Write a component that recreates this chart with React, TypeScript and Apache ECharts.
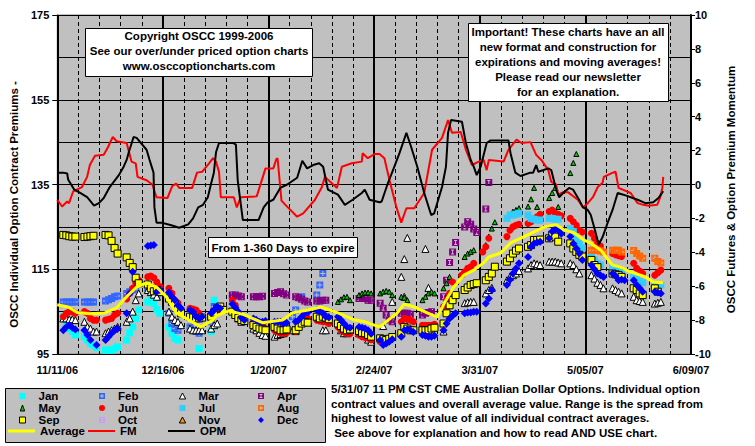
import React, { useEffect, useRef } from 'react';
import * as echarts from 'echarts';

const FONT = '"Liberation Sans", Arial, sans-serif';

// x values are calendar days counted from 11/11/06
const X_LABELS = ['11/11/06', '12/16/06', '1/20/07', '2/24/07', '3/31/07', '5/05/07', '6/09/07'];

const JAN = [[2,103.8],[3,102.2],[4,101],[5,100.3],[6,99.5],[9,99.1],[10,98.3],[11,97.5],[12,97.1],[13,96.5],[16,95.9],[17,95.9],[18,95.9],[19,96.3],[20,96.7],[23,98.3],[24,100],[25,101.4],[26,103.4],[27,105.4],[30,107.3],[31,107.7],[32,107],[33,105.5],[34,104.6],[37,101.4],[38,99.9],[39,98.7],[40,98.3],[47,96.3],[51,100.3],[52,107.7],[107,98.3]];
const FEB = [[2,107.3],[3,107.3],[4,107.3],[5,107.3],[6,107.3],[9,107.3],[10,107.3],[11,107.3],[12,107.3],[16,107.5],[17,107.8],[18,108.1],[19,108.5],[20,108.7],[23,109.3],[24,109.7],[25,110.1],[26,110.3],[30,110.5],[31,110.5],[32,109.5],[33,108.5],[37,104.6],[38,102.2],[39,101],[40,100.6],[44,101.4],[45,100.6],[46,100.3],[47,99.9],[51,102.6],[52,106.2],[60,103.8],[61,103.4],[65,103],[66,102],[69,100.6],[78,103.8],[79,105.4],[81,108.5],[86,108.9],[87,111.3],[88,114]];
const MAR = [[2,103.4],[3,103.4],[4,103.2],[5,103.2],[6,103],[9,102.6],[10,101.4],[11,101],[12,100.3],[13,100.3],[16,99.9],[17,100.3],[18,100.6],[19,101],[20,101.4],[23,102.6],[24,103.4],[25,105],[26,107.7],[27,109.3],[30,110.1],[31,109.6],[32,109],[33,108.5],[37,105],[38,103.8],[39,103],[40,102.6],[41,101.8],[44,101],[45,100.6],[46,100.6],[47,100.6],[48,100.6],[51,101],[52,101.8],[53,102.2],[60,103.4],[61,102.6],[65,101],[66,100.6],[67,100],[68,99.5],[69,99.3],[72,99.1],[73,99.5],[74,99.7],[75,99.9],[78,100.6],[79,100.4],[88,100.6],[89,100.6],[94,100.6],[95,99.9],[96,99.9],[100,99.9],[101,99.7],[103,98.4],[104,97.9],[108,101.6],[111,107.3],[114,113.2],[115,117.4],[116,122.4],[115,108.5],[122,119.8],[123,110.6],[128,100.3],[135,107],[136,107.2],[137,107.3],[138,107.3],[142,109.3],[143,110.1],[144,110.6],[149,112.4],[150,113.2],[151,113.6],[152,114],[153,114.6],[156,115.2],[157,116],[158,116.4],[159,116.2],[160,116],[163,116.8],[164,116.8],[165,116.8],[166,116.6],[167,116.4],[170,116.4],[171,116],[172,115],[173,114],[177,113.6],[178,112.8],[179,111.8],[180,111.3],[181,110.5],[184,110.5],[185,110.1],[186,109.7],[187,109.3],[191,108.5],[192,107.7],[193,107.5],[194,107.3],[198,106.9],[199,107.1],[200,107.3]];
const APR = [[58,108.9],[59,108.9],[60,108.7],[61,108.5],[65,108.5],[66,108.5],[67,108.5],[68,108.6],[72,109.3],[73,109.5],[74,109.7],[75,109.2],[76,108.9],[79,108.5],[80,108.3],[81,107.9],[82,107.5],[83,107.3],[86,107.5],[87,107.5],[88,107.7],[89,107.7],[100,108.1],[101,108.2],[102,108.1],[103,107.7],[104,107.7],[107,107],[108,105.8],[109,104.2],[110,103],[111,102.6],[114,104.6],[115,104.6],[116,104.6],[117,104.4],[121,104.2],[122,104.6],[123,104.8],[124,105],[128,108.5],[129,112.4],[130,116.6],[131,119.1],[132,121.3],[135,125],[136,126.2],[137,125.6],[138,124.5],[139,123.7],[142,129.2],[143,135.5]];
const MAY = [[93,107.3],[94,107.9],[95,108.4],[96,108.5],[97,107.7],[100,108.9],[101,109.3],[102,109.5],[103,109.5],[104,109.3],[107,109.3],[108,109.7],[109,109.9],[110,109.7],[111,108.9],[114,108.5],[115,108.3],[116,107.7],[121,107.7],[122,108.5],[123,109.3],[124,109.7],[125,109.3],[128,110.5],[129,111.7],[130,113.2],[135,117.9],[136,118.7],[137,119.1],[138,119.5],[142,120.7],[143,122.7],[144,124.6],[145,126.1],[151,128.6],[152,129],[153,129.4],[156,129.8],[157,131.5],[158,134.2],[159,129.7],[163,131.8],[164,133],[165,134.2],[166,129.7],[170,137.7],[171,140.1],[172,142.2]];
const JUN = [[2,103.8],[3,104.6],[4,105],[5,105],[6,104.6],[9,105],[10,104.6],[11,103.4],[12,103],[13,103],[16,103],[17,103.2],[18,103.4],[19,104.2],[20,104.6],[23,108],[24,109.3],[25,110.5],[26,111.7],[27,112.4],[30,113.2],[31,113.4],[32,113],[33,112],[34,110.9],[37,110.5],[38,109.3],[39,107.7],[40,107],[44,105.8],[45,105.6],[46,105.4],[47,104.6],[51,103.8],[52,104.6],[53,105.4],[58,107.7],[59,106.5],[60,104.6],[61,103.8],[65,102.6],[66,102.2],[67,101.8],[68,101.4],[69,101],[72,100.6],[73,100.2],[74,99.9],[75,99.9],[76,100],[79,100.3],[80,101.4],[81,102.6],[82,103.8],[83,103.4],[86,103],[87,102.8],[88,102.6],[89,102.6],[90,102.2],[93,101.4],[94,100.6],[95,100.2],[96,99.9],[97,99.8],[100,99.5],[101,99.1],[102,98.9],[103,98.7],[104,98.3],[107,97.9],[108,98.1],[109,98.3],[110,98.5],[111,99],[114,102.6],[115,103.4],[116,103.2],[117,103],[118,102.6],[121,101.8],[122,101.8],[123,101.8],[124,101.8],[125,102],[128,106.2],[129,107.7],[130,109.3],[131,112],[134,113.6],[135,114.4],[136,115.2],[137,115.6],[138,116.4],[141,119.1],[142,120.3],[143,122.3],[149,122.7],[150,124.2],[151,125],[152,125.4],[153,125.6],[156,125.8],[157,126.2],[158,126.8],[159,127.4],[160,128],[163,128.6],[164,129],[165,128.2],[166,128],[167,127.6],[170,127],[171,126.2],[172,125.4],[173,124.2],[174,123.8],[177,123.5],[178,122.3],[179,121.1],[180,120.5],[184,118.7],[185,118.4],[186,118.2],[187,118],[191,116.4],[192,115.2],[193,114.6],[194,114],[198,113.6],[199,114.2],[200,114.8]];
const JUL = [[149,127],[150,127.8],[151,127.8],[152,128],[153,128.2],[156,127.8],[157,127],[158,126.8],[159,126.6],[160,126.6],[163,127],[164,127],[165,126.8],[166,126.8],[170,124.6],[171,123.9],[172,122.7],[173,121.1],[174,120],[177,118],[178,117.2],[179,116.4],[180,116],[184,115.2],[185,114.8],[186,114.4],[187,114],[191,113.6],[192,112.8],[193,112.1],[194,111.8],[198,111.3],[199,111.3],[200,111.3]];
const AUG = [[177,119.5],[178,119.5],[179,119.5],[180,119.3],[181,119.1],[184,119.5],[185,119.5],[186,119.5],[187,119.1],[191,119.4],[192,118.7],[193,118.1],[194,117.6],[198,117.6],[199,116.8],[200,116.5]];
const SEP = [[2,123.1],[3,123],[4,122.8],[5,122.7],[6,122.7],[9,122.6],[10,122.7],[11,122.8],[12,122.9],[16,123.1],[17,123],[18,121.7],[19,120],[20,118.7],[23,117.8],[24,116.5],[25,115.5],[26,113],[27,111.7],[30,111.4],[31,110.5],[32,109.8],[33,110.1],[34,109.6],[37,108.1],[38,107.3],[39,106.8],[40,105.6],[41,104.6],[44,103.8],[45,103.6],[46,103.4],[47,103.4],[48,103.6],[51,103.8],[52,104.8],[53,105.8],[54,106.2],[55,105.4],[58,105],[59,104.2],[60,103.5],[61,103],[62,102.8],[65,101.8],[66,101.4],[67,101],[68,100.8],[69,100.6],[72,101.4],[73,101],[74,100.6],[75,100.6],[76,100.8],[79,100.6],[80,101.4],[81,102.2],[82,102.6],[83,102.4],[86,103.8],[87,103.4],[88,103.8],[89,103.6],[90,103.2],[93,102.2],[94,101.6],[95,101],[96,100.6],[97,100.8],[100,100.4],[101,100],[102,99.9],[103,99.5],[104,99.1],[107,98.7],[108,98.5],[109,98.3],[110,98.6],[111,99],[114,99.9],[115,101.4],[116,101],[117,100.6],[118,100.6],[121,100.6],[122,100.6],[123,100.6],[124,101],[125,101.2],[128,102.2],[129,104.6],[130,106.5],[131,107.7],[132,108.9],[135,110.1],[136,110.7],[137,111.3],[138,111.5],[139,111.7],[142,112.4],[143,113.2],[144,114],[145,115.6],[149,116.8],[150,117.6],[151,118.7],[152,119.4],[153,119.9],[156,120.3],[157,120.7],[158,121.9],[159,121.9],[160,122],[163,122.3],[164,123.1],[165,122.7],[166,121.5],[170,121.1],[171,119.9],[172,119.1],[173,118.4],[174,118],[177,117.2],[178,116],[179,115.5],[184,114],[185,113.8],[186,113.6],[187,113.2],[191,110.5],[192,110.1],[193,109.3],[194,108.9],[198,110.5],[199,109.7]];
const OCT: number[][] = [];
const NOV: number[][] = [];
const DEC = [[2,100.6],[3,101.4],[4,101.8],[5,101.2],[6,100.8],[9,100.6],[10,99.5],[11,98.3],[13,97.1],[16,98.3],[17,99.1],[18,99.9],[19,100.6],[20,101],[23,104.6],[24,109.3],[25,114.4],[30,120.5],[31,120.6],[32,120.7],[33,109.7],[34,110.1],[37,109.5],[38,108.5],[39,107.7],[40,106.5],[41,105.8],[44,105.4],[45,105],[46,103.8],[47,103.4],[48,103.8],[51,104.6],[52,105.4],[53,106.2],[54,105.8],[58,106.8],[59,106],[60,105],[61,103.6],[62,103],[65,103.4],[66,103],[67,102.6],[68,102.6],[69,102.8],[72,102.6],[73,102.6],[74,102.6],[75,102.2],[76,102.4],[79,102.6],[80,103],[81,103.8],[82,104.6],[83,104.8],[86,105.4],[87,105],[88,104.6],[89,103.8],[90,103.6],[93,103.8],[94,103],[95,102.2],[96,101.4],[97,101.2],[100,101.4],[101,101.2],[102,101],[103,100.6],[104,99.8],[107,98.3],[108,97.1],[109,97.5],[110,97.9],[111,98.5],[114,99.1],[115,100.6],[116,100.8],[117,100.6],[118,100.2],[121,99.5],[122,99.3],[123,99.1],[124,99.1],[125,99.3],[128,100.6],[129,102.2],[130,103.4],[131,104],[132,104.6],[135,104.6],[136,104.8],[137,104.8],[138,105],[139,105],[142,106.9],[143,108.1],[144,110.1],[149,111.3],[150,112.5],[151,114],[152,115.2],[153,116.4],[156,117.9],[157,120.3],[158,121.1],[159,121.3],[160,121.5],[163,122.3],[164,123.9],[165,124.6],[166,124.2],[167,123.4],[170,122.7],[171,121.1],[172,119.9],[173,118.7],[174,117.2],[177,116],[178,115],[179,114],[180,113.6],[181,113.2],[184,114],[185,113.4],[186,112.4],[187,112.6],[188,112.4],[191,112.4],[192,111.3],[193,110.5],[194,109.7],[198,109.7],[199,109.5],[200,109.3]];

const AVG = [[0,106.6],[3.6,106.1],[6.6,104.8],[10.8,104.5],[15.8,104.7],[19.7,105.9],[23,108.5],[26.3,110.8],[29.6,111.8],[32.9,110.8],[36.1,108.5],[39.4,104.7],[43.7,103],[47.6,101.4],[51.6,103],[52.6,104],[56.9,105.2],[61.8,104.3],[68,102.4],[74.6,103],[77.9,104.7],[83.1,105.4],[87.4,106.1],[93,104.7],[98.6,103],[101.9,102.6],[106.8,101.4],[108.4,102.3],[112.7,104.7],[115,106.8],[118.3,106.1],[122.6,104.7],[125.9,103.7],[128.8,107.7],[131.4,110.8],[134.7,113.6],[138,114.8],[141.3,116.5],[143,117.9],[146.9,118.8],[150.2,121.2],[153.8,122.4],[156.8,123.4],[159.4,124.3],[161.4,125],[165.3,125.5],[167.9,124.3],[171.2,123.6],[174.5,121.9],[176.8,121.2],[180.1,119.5],[184,116],[186.7,115.5],[189.9,114.4],[194.9,113.2],[197.5,112],[200.8,111.8]];
const FM = [[0,-0.9],[1.6,-1.3],[3.3,-1],[3.9,-1.1],[5.3,-0.4],[8.2,-0.15],[9.9,0.45],[10.8,1.15],[12.5,1.7],[15.4,1.75],[16.8,2.2],[18.4,2.8],[19.7,2.55],[23,2.45],[24.6,1.35],[26,1.25],[26.6,0.45],[29.6,0.25],[31.5,0],[32.9,-0.75],[36.5,-0.8],[38.1,-0.1],[39.4,0.05],[40.4,-0.2],[44.7,-0.2],[46.3,0.7],[48,0.75],[50.3,1.25],[51.6,1.55],[52.6,1.35],[53.6,0.75],[54.2,-0.75],[58.5,-0.75],[59.5,-1.35],[60.8,-0.75],[66.1,-0.7],[69,0.95],[71.6,0.95],[72.6,1.5],[73,1.55],[74.3,-0.95],[75.6,-1.2],[79.5,-1.9],[81.5,-1.7],[85.4,-0.9],[87.7,-0.15],[88.7,0.45],[92.7,-0.2],[94.3,1.05],[97.6,1.25],[100.9,1.35],[101.2,1.85],[102.9,1.55],[105.2,1.8],[106.8,1.8],[108.4,1.55],[110.1,0.25],[112.4,-1.35],[114,-2.25],[115.7,-1.4],[118.3,-1.4],[121.6,-0.5],[124.2,2.05],[127.5,2.75],[129.5,3.8],[130.8,3.05],[133.7,3.1],[135.4,2.05],[137.4,1.15],[139.7,1.35],[141.3,1.45],[142.3,0.85],[143,1.45],[147.9,1.35],[149.5,2.05],[152.2,2.65],[153.8,2.45],[156.8,2.5],[158.7,1.75],[160.4,1.45],[162.7,0.85],[163.7,0.15],[165.3,0],[166,-0.6],[167.6,-0.45],[169.2,-0.45],[172.5,-0.9],[174.2,-1.35],[175.8,-1.1],[177.5,-0.75],[179.1,-0.15],[180.7,0.1],[181.1,0.45],[184.1,0.7],[185,0.75],[186,-0.2],[190,-0.5],[192.3,-1.1],[194.2,-1.2],[195.9,-1.25],[198.8,-1.2],[199.8,-0.75],[200.5,-0.2],[200.8,0.45]];
const OPM = [[0,0.7],[2,0.7],[3.3,0.65],[3.6,0.3],[5.6,-0.3],[7.6,-0.5],[9.9,-0.75],[12.2,-1.25],[13.8,-1.1],[15.4,-0.8],[17.4,-0.15],[20.4,0.55],[22,1.05],[23,1.45],[23.7,1.9],[25.3,2.8],[26.3,2.75],[29.6,2.05],[30.6,1.45],[31.9,0.7],[32.2,-1.35],[32.9,-2.25],[34.5,-2.25],[37.8,-2.4],[40.4,-2.55],[43.4,-2.35],[45,-2],[46.7,-1.35],[48.3,-1.2],[49.9,-0.75],[50.9,0],[51.9,0.7],[52.6,1.9],[53.6,2.45],[58.2,2.45],[59.2,2.35],[59.8,0.25],[61.5,-2.1],[66.7,-2.1],[68.4,-1.35],[69.7,-1.05],[71.6,-0.9],[73.9,-0.2],[76.2,0],[79.5,0.4],[81.2,1.4],[82.8,0.95],[84.8,1.15],[86.8,1.25],[88.1,1.05],[89.7,-0.3],[93,-0.6],[95.3,-1.2],[97.9,-0.9],[100.9,-0.5],[101.9,-0.3],[103.5,-0.9],[106.8,-1.05],[107.5,-1],[109.4,0],[111.7,1.05],[113.4,1.85],[115.7,3.05],[117.3,2.2],[119.3,1.05],[121.6,-0.5],[123.9,-1.8],[124.9,-1.7],[127.5,-0.15],[128.8,1.05],[129.5,3.05],[130.5,3.8],[134.1,3.7],[135.4,2.45],[137,1.45],[138,1.05],[139,0.55],[140.3,1.05],[142.3,2.45],[143.6,2.6],[149.5,2.6],[150.2,1.85],[151.8,0.7],[153.5,0.5],[156.8,0.7],[157.7,0.7],[158.7,1.15],[159.4,0.75],[162.7,0.95],[163.7,0.85],[165.3,-0.3],[166.3,-0.75],[167.6,-0.5],[169.6,-0.2],[170.9,-0.3],[172.9,-0.9],[174.2,-1.35],[175.8,-1.5],[176.8,-1.8],[178.4,-2.85],[179.4,-3.55],[180.7,-3.1],[182.4,-2.25],[184,-1.5],[185.7,-0.5],[187.6,-0.6],[192.3,-0.9],[194.9,-1.1],[197.5,-1.05],[199.2,-0.8],[200.8,-0.4]];

// marker shapes (plot)
const SQ_PLUS = 'path://M0,0L7,0L7,7L0,7Z M3,1L3,3L1,3L1,4L3,4L3,6L4,6L4,4L6,4L6,3L4,3L4,1Z';
const SQ_I = 'path://M0,0L7,0L7,7L0,7Z M2,1L2,2L3,2L3,5L2,5L2,6L5,6L5,5L4,5L4,2L5,2L5,1Z';
// legend icons (22x6 box, shape centred)
const PAD = 'M0,3L0,3Z M22,3L22,3Z ';
const LI_SQ = 'path://' + PAD + 'M8,0L14,0L14,6L8,6Z';
const LI_PLUS = 'path://' + PAD + 'M8,0L14,0L14,6L8,6Z M10.5,1L10.5,2.5L9,2.5L9,3.5L10.5,3.5L10.5,5L11.5,5L11.5,3.5L13,3.5L13,2.5L11.5,2.5L11.5,1Z';
const LI_I = 'path://' + PAD + 'M8,0L14,0L14,6L8,6Z M9.5,1L9.5,2L10.5,2L10.5,4L9.5,4L9.5,5L12.5,5L12.5,4L11.5,4L11.5,2L12.5,2L12.5,1Z';
const LI_TRI = 'path://' + PAD + 'M11,0L14.2,6L7.8,6Z';
const LI_TRI_S = 'path://' + PAD + 'M11,1.5L13.2,6L8.8,6Z';
const LI_CIRC = 'path://' + PAD + 'M8,3A3,3 0 1,0 14,3A3,3 0 1,0 8,3Z';
const LI_DIA = 'path://' + PAD + 'M11,0L14,3L11,6L8,3Z';
const LINE3 = 'path://M0,0L27,0L27,3L0,3Z';
const LINE2 = 'path://M0,0L27,0L27,2L0,2Z';

function sc(name: string, data: number[][], symbol: string, size: number, color: string, border = false) {
  return {
    type: 'scatter', name, data, symbol, symbolSize: size, silent: true,
    itemStyle: { color, borderColor: '#000', borderWidth: border ? 1 : 0, opacity: 1 },
  };
}

export default function App() {
  const ref = useRef<HTMLDivElement>(null);
  useEffect(() => {
    if (!ref.current) return;
    const chart = echarts.init(ref.current, undefined, { renderer: 'svg' });
    const txt = { fontFamily: FONT, fontWeight: 'bold' as const, color: '#000' };
    const legBase = {
      orient: 'vertical', itemWidth: 22, itemHeight: 6, itemGap: 0, padding: 0,
      selectedMode: false, top: 390, symbolKeepAspect: false,
      textStyle: { ...txt, fontSize: 11.5, lineHeight: 11.5 },
    };
    const lineLeg = {
      orient: 'horizontal', itemWidth: 27, itemHeight: 6, itemGap: 0, padding: 0,
      selectedMode: false, top: 425, symbolKeepAspect: true,
      textStyle: { ...txt, fontSize: 11.5, lineHeight: 12 },
    };
    const li = (name: string, icon: string, color: string, border = false) => ({
      name, icon, itemStyle: { color, borderWidth: border ? 1 : 0, borderColor: '#000' },
    });
    const boxFont = `bold 11.5px ${FONT}`;
    const option: any = {
      animation: false,
      backgroundColor: '#ffffff',
      textStyle: { fontFamily: FONT },
      grid: { left: 52, right: 64, top: 15, bottom: 92, show: true, backgroundColor: '#c0c0c0', borderColor: '#808080', borderWidth: 1 },
      xAxis: {
        type: 'value', min: 0, max: 210, interval: 35,
        axisLine: { show: true, lineStyle: { color: '#000', width: 1 } },
        axisTick: { show: true, length: 4, lineStyle: { color: '#000' } },
        axisLabel: { ...txt, fontSize: 11, margin: 10, formatter: (v: number) => X_LABELS[Math.round(v / 35)] ?? '' },
        splitLine: { show: true, lineStyle: { color: '#000', width: 2 } },
        minorTick: { show: false, splitNumber: 5 },
        minorSplitLine: { show: true, lineStyle: { color: '#000', width: 1, type: [4, 3] } },
      },
      yAxis: [
        {
          type: 'value', min: 95, max: 175, interval: 20, position: 'left',
          name: 'OSCC Individual Option Contract Premiums -', nameLocation: 'middle', nameGap: 32,
          nameTextStyle: { ...txt, fontSize: 11.5, padding: [0, 40, 0, 0] },
          axisLine: { show: true, lineStyle: { color: '#000', width: 1 } },
          axisTick: { show: true, length: 5, lineStyle: { color: '#000' } },
          axisLabel: { ...txt, fontSize: 11, margin: 8 },
          splitLine: { show: true, lineStyle: { color: '#000', width: 1 } },
          minorTick: { show: false, splitNumber: 2 },
          minorSplitLine: { show: true, lineStyle: { color: '#000', width: 1 } },
        },
        {
          type: 'value', min: -10, max: 10, interval: 2, position: 'right',
          name: 'OSCC Futures & Option Premium Momentum', nameLocation: 'middle', nameGap: 34,
          nameTextStyle: { ...txt, fontSize: 11.5, padding: [0, 10, 0, 0] },
          axisLine: { show: true, lineStyle: { color: '#000', width: 2 } },
          axisTick: { show: true, length: 4, lineStyle: { color: '#000' } },
          axisLabel: { ...txt, fontSize: 11, margin: 4 },
          splitLine: { show: false },
        },
      ],
      legend: [
        { ...legBase, left: 11, data: [li('Jan', LI_SQ, '#00ffff'), li('May', LI_TRI_S, '#00cc00', true), li('Sep', LI_SQ, '#ffff00', true)] },
        { ...legBase, left: 91, data: [li('Feb', LI_PLUS, '#3366ff'), li('Jun', LI_CIRC, '#ff0000'), li('Oct', LI_I, '#cc99ff')] },
        { ...legBase, left: 171, data: [li('Mar', LI_TRI, '#ffffff', true), li('Jul', LI_SQ, '#33ccff'), li('Nov', LI_TRI, '#ff9900', true)] },
        { ...legBase, left: 250, data: [li('Apr', LI_I, '#800080'), li('Aug', LI_PLUS, '#ff6600'), li('Dec', LI_DIA, '#0000ff')] },
        { ...lineLeg, left: 8, data: [{ name: 'Average', icon: LINE3, itemStyle: { color: '#ffff00', borderWidth: 0 } }] },
        { ...lineLeg, left: 88, data: [{ name: 'FM', icon: LINE2, itemStyle: { color: '#ff0000', borderWidth: 0 } }] },
        { ...lineLeg, left: 168, data: [{ name: 'OPM', icon: LINE2, itemStyle: { color: '#000000', borderWidth: 0 } }] },
      ],
      graphic: [
        { type: 'rect', z: 0, silent: true, shape: { x: 5.5, y: 388.5, width: 320, height: 54 }, style: { fill: '#c0c0c0', stroke: '#000', lineWidth: 1 } },
        { type: 'rect', z: 100, silent: true, shape: { x: 85.5, y: 28.5, width: 227, height: 48 }, style: { fill: '#fff', stroke: '#000', lineWidth: 1 } },
        { type: 'text', z: 101, silent: true, x: 199, y: 51, style: { text: 'Copyright OSCC 1999-2006\nSee our over/under priced option charts\nwww.osccoptioncharts.com', font: boxFont, fill: '#000', textAlign: 'center', textVerticalAlign: 'middle', align: 'center', verticalAlign: 'middle', lineHeight: 15 } },
        { type: 'rect', z: 100, silent: true, shape: { x: 468.5, y: 23.5, width: 200, height: 78 }, style: { fill: '#fff', stroke: '#000', lineWidth: 1 } },
        { type: 'text', z: 101, silent: true, x: 568, y: 62, style: { text: 'Important! These charts have an all\nnew format and construction for\nexpirations and moving averages!\nPlease read our newsletter\nfor an explanation.', font: boxFont, fill: '#000', textAlign: 'center', textVerticalAlign: 'middle', align: 'center', verticalAlign: 'middle', lineHeight: 15 } },
        { type: 'rect', z: 100, silent: true, shape: { x: 208.5, y: 237.5, width: 149, height: 20 }, style: { fill: '#fff', stroke: '#000', lineWidth: 1 } },
        { type: 'text', z: 101, silent: true, x: 283, y: 247.5, style: { text: 'From 1-360 Days to expire', font: boxFont, fill: '#000', textAlign: 'center', textVerticalAlign: 'middle', align: 'center', verticalAlign: 'middle' } },
        { type: 'text', z: 101, silent: true, x: 331, y: 381.6, style: { text: '5/31/07 11 PM CST CME Australian Dollar Options. Individual option\ncontract values and overall average value. Range is the spread from\nhighest to lowest value of all individual contract averages.\n See above for explanation and how to read AND USE chart.', font: boxFont, fill: '#000', textAlign: 'left', textVerticalAlign: 'top', align: 'left', verticalAlign: 'top', lineHeight: 14.7 } },
      ],
      series: [
        sc('Jan', JAN, 'rect', 7, '#00ffff'),
        sc('Feb', FEB, SQ_PLUS, 7, '#3366ff'),
        sc('Mar', MAR, 'triangle', 7, '#ffffff', true),
        sc('Apr', APR, SQ_I, 7, '#800080'),
        sc('May', MAY, 'triangle', 5, '#00cc00', true),
        sc('Jun', JUN, 'circle', 7, '#ff0000'),
        sc('Jul', JUL, 'rect', 7, '#33ccff'),
        sc('Aug', AUG, SQ_PLUS, 7, '#ff6600'),
        sc('Sep', SEP, 'rect', 7, '#ffff00', true),
        sc('Oct', OCT, SQ_I, 7, '#cc99ff'),
        sc('Nov', NOV, 'triangle', 7, '#ff9900', true),
        sc('Dec', DEC, 'diamond', 8, '#0000ff'),
        { type: 'line', name: 'Average', data: AVG, yAxisIndex: 0, showSymbol: false, symbol: 'none', silent: true, lineStyle: { color: '#ffff00', width: 3 }, itemStyle: { color: '#ffff00' } },
        { type: 'line', name: 'FM', data: FM, yAxisIndex: 1, showSymbol: false, symbol: 'none', silent: true, lineStyle: { color: '#ff0000', width: 2 }, itemStyle: { color: '#ff0000' } },
        { type: 'line', name: 'OPM', data: OPM, yAxisIndex: 1, showSymbol: false, symbol: 'none', silent: true, lineStyle: { color: '#000000', width: 2 }, itemStyle: { color: '#000000' } },
      ],
    };
    chart.setOption(option);
    return () => chart.dispose();
  }, []);
  return <div ref={ref} style={{ position: 'fixed', left: 0, top: 0, width: 755, height: 446 }} />;
}
